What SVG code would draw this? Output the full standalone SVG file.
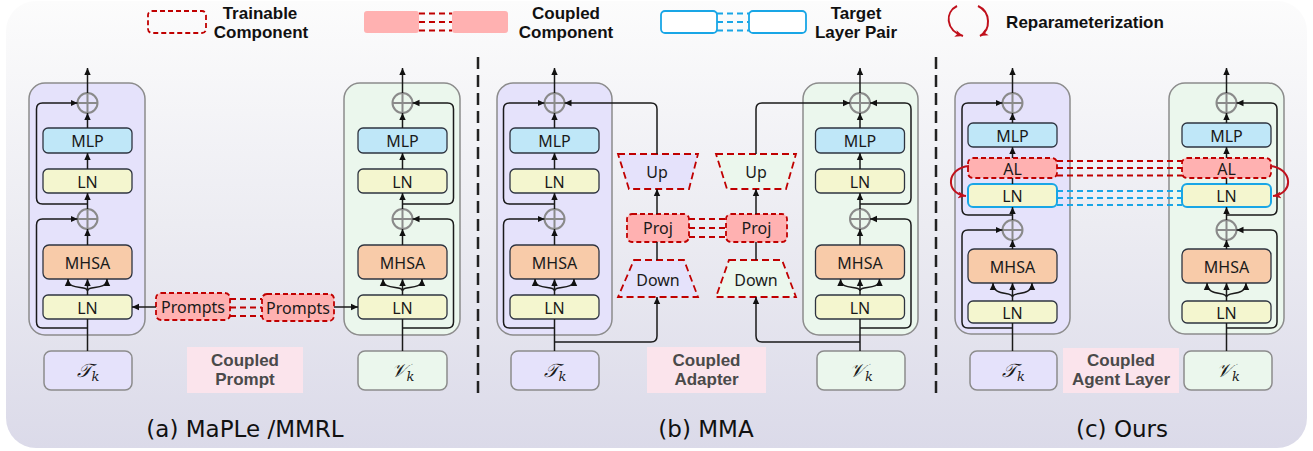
<svg xmlns="http://www.w3.org/2000/svg" width="1313" height="451" viewBox="0 0 1313 451">
  <defs>
    <linearGradient id="bgGrad" x1="0" y1="0" x2="0" y2="1">
      <stop offset="0" stop-color="#fcfcfc"/>
      <stop offset="0.5" stop-color="#ececf2"/>
      <stop offset="1" stop-color="#dbdae9"/>
    </linearGradient>
    <marker id="arr" markerUnits="userSpaceOnUse" markerWidth="8" markerHeight="8" refX="7" refY="4" orient="auto">
      <path d="M0,0.8 L7,4 L0,7.2 z" fill="#111"/>
    </marker>
    <marker id="arrRed" markerUnits="userSpaceOnUse" markerWidth="9" markerHeight="9" refX="8" refY="4.5" orient="auto">
      <path d="M0,1 L8,4.5 L0,8 L2,4.5 z" fill="#c0101c"/>
    </marker>
    <style>
      .blkT { fill: #e5e2fb; stroke: #8c8c8c; stroke-width: 1.5; }
      .blkV { fill: #ebf7ed; stroke: #8c8c8c; stroke-width: 1.5; }
      .mlp { fill: #bfe7f8; stroke: #2e3440; stroke-width: 1.3; }
      .ln { fill: #f4f6cf; stroke: #2e3440; stroke-width: 1.3; }
      .lnT { fill: #f4f6cf; stroke: #19a6e6; stroke-width: 2; }
      .mhsa { fill: #f8cba9; stroke: #2e3440; stroke-width: 1.3; }
      .train { fill: #ffb1b1; stroke: #c00000; stroke-width: 1.8; stroke-dasharray: 5 3; }
      .trapT { fill: #e5e2fb; stroke: #c00000; stroke-width: 1.8; stroke-dasharray: 7 4; }
      .trapV { fill: #ebf7ed; stroke: #c00000; stroke-width: 1.8; stroke-dasharray: 7 4; }
      .plus { fill: none; stroke: #8a8a8a; stroke-width: 2; }
      .wire { fill: none; stroke: #1a1a1a; stroke-width: 1.5; }
      .dashR { fill: none; stroke: #c00000; stroke-width: 1.8; stroke-dasharray: 6 4; }
      .dashB { fill: none; stroke: #19a6e6; stroke-width: 1.8; stroke-dasharray: 6 4; }
      .sep { fill: none; stroke: #222; stroke-width: 2.5; stroke-dasharray: 12 6; }
      .reparam { fill: none; stroke: #c0101c; stroke-width: 2; }
      .inpT { fill: #e5e2fb; stroke: #8c8c8c; stroke-width: 1.5; }
      .inpV { fill: #ebf7ed; stroke: #8c8c8c; stroke-width: 1.5; }
      .tag { fill: #fbe4ec; }
      .lbl { font-family: "Noto Sans", "Open Sans", sans-serif; font-size: 16px; fill: #1a1a1a; text-anchor: middle; dominant-baseline: central; }
      .tagTxt { font-family: "Liberation Sans", Arial, sans-serif; font-size: 17px; font-weight: bold; fill: #4a4a4a; text-anchor: middle; }
      .leg { font-family: "Liberation Sans", Arial, sans-serif; font-size: 17px; font-weight: bold; fill: #111; text-anchor: middle; }
      .cap { font-family: "DejaVu Sans", "Liberation Sans", sans-serif; font-size: 23px; fill: #111; text-anchor: middle; }
      .math { font-family: "DejaVu Serif", "Liberation Serif", serif; font-style: italic; font-size: 19px; fill: #1a1a1a; text-anchor: middle; }
    </style>
  </defs>

  <!-- backdrop -->
  <rect x="6" y="1" width="1301" height="447" rx="30" fill="url(#bgGrad)"/>

  <!-- legend -->
  <g id="legend">
    <rect x="148" y="11" width="58" height="22" rx="4" fill="none" stroke="#c00000" stroke-width="1.8" stroke-dasharray="5 3"/>
    <text class="leg" x="260" y="18.5">Trainable</text>
    <text class="leg" x="261" y="38">Component</text>

    <rect x="364" y="11" width="55" height="22" rx="3" fill="#ffb1b1"/>
    <rect x="452" y="11" width="56" height="22" rx="3" fill="#ffb1b1"/>
    <path class="dashR" d="M419,13.5 H452 M419,22 H452 M419,30.5 H452" stroke-dasharray="5 3"/>
    <text class="leg" x="566" y="18.5">Coupled</text>
    <text class="leg" x="566" y="38">Component</text>

    <rect x="661" y="11" width="56" height="22" rx="4" fill="#fff" stroke="#19a6e6" stroke-width="1.8"/>
    <rect x="749" y="11" width="57" height="22" rx="4" fill="#fff" stroke="#19a6e6" stroke-width="1.8"/>
    <path class="dashB" d="M717,13.5 H749 M717,22 H749 M717,30.5 H749" stroke-dasharray="5 3"/>
    <text class="leg" x="856" y="18.5">Target</text>
    <text class="leg" x="856" y="38">Layer Pair</text>

    <path class="reparam" d="M957,6 C945,12 945,30 963,36" marker-end="url(#arrRed)"/>
    <path class="reparam" d="M978,6 C991,12 991,30 980,36" marker-end="url(#arrRed)"/>
    <text class="leg" x="1085" y="28">Reparameterization</text>
  </g>

  <!-- panel separators -->
  <g id="separators">
    <line class="sep" x1="478" y1="57" x2="478" y2="398"/>
    <line class="sep" x1="936" y1="57" x2="936" y2="398"/>
  </g>

  <!-- ===== (a) MaPLe / MMRL ===== -->
  <g id="a-text-encoder">
    <rect class="blkT" x="29" y="83" width="116" height="252" rx="16"/>
    <g id="a-t-mlp"><rect class="mlp" x="43" y="128" width="89" height="25" rx="5"/><text class="lbl" x="87.5" y="141">MLP</text></g>
    <g id="a-t-ln2"><rect class="ln" x="43" y="169" width="89" height="24" rx="5"/><text class="lbl" x="87.5" y="181.5">LN</text></g>
    <g id="a-t-mhsa"><rect class="mhsa" x="43" y="245" width="89" height="34" rx="6"/><text class="lbl" x="87.5" y="262.5">MHSA</text></g>
    <g id="a-t-ln1"><rect class="ln" x="43" y="295" width="89" height="24" rx="5"/><text class="lbl" x="87.5" y="307.5">LN</text></g>
    <g id="a-t-add2"><circle class="plus" cx="87.5" cy="103" r="10"/><path class="plus" d="M77.5,103 H97.5 M87.5,93 V113"/></g>
    <g id="a-t-add1"><circle class="plus" cx="87.5" cy="219" r="10"/><path class="plus" d="M77.5,219 H97.5 M87.5,209 V229"/></g>
  </g>
  <g id="a-image-encoder">
    <rect class="blkV" x="344" y="83" width="116" height="252" rx="16"/>
    <g id="a-v-mlp"><rect class="mlp" x="358" y="128" width="89" height="25" rx="5"/><text class="lbl" x="402.5" y="141">MLP</text></g>
    <g id="a-v-ln2"><rect class="ln" x="358" y="169" width="89" height="24" rx="5"/><text class="lbl" x="402.5" y="181.5">LN</text></g>
    <g id="a-v-mhsa"><rect class="mhsa" x="358" y="245" width="89" height="34" rx="6"/><text class="lbl" x="402.5" y="262.5">MHSA</text></g>
    <g id="a-v-ln1"><rect class="ln" x="358" y="295" width="89" height="24" rx="5"/><text class="lbl" x="402.5" y="307.5">LN</text></g>
    <g id="a-v-add2"><circle class="plus" cx="402.5" cy="103" r="10"/><path class="plus" d="M392.5,103 H412.5 M402.5,93 V113"/></g>
    <g id="a-v-add1"><circle class="plus" cx="402.5" cy="219" r="10"/><path class="plus" d="M392.5,219 H412.5 M402.5,209 V229"/></g>
  </g>
  <g id="a-prompt-t"><rect class="train" x="156" y="293" width="74" height="27" rx="5"/><text class="lbl" x="193" y="307" font-size="15">Prompts</text></g>
  <g id="a-prompt-v"><rect class="train" x="262" y="294" width="72" height="27" rx="5"/><text class="lbl" x="298" y="308" font-size="15">Prompts</text></g>
  <g id="a-input-t"><rect class="inpT" x="44" y="351" width="88" height="39" rx="7"/><text class="math" x="88" y="377">𝒯<tspan font-size="13" dy="4">k</tspan></text></g>
  <g id="a-input-v"><rect class="inpV" x="358" y="351" width="89" height="39" rx="7"/><text class="math" x="402.5" y="377">𝒱<tspan font-size="13" dy="4">k</tspan></text></g>
  <g id="a-tag"><rect class="tag" x="187" y="347" width="116" height="46"/><text class="tagTxt" x="245" y="366">Coupled</text><text class="tagTxt" x="245" y="385">Prompt</text></g>
  <text class="cap" x="245" y="437">(a) MaPLe /MMRL</text>

  <!-- ===== (b) MMA ===== -->
  <g id="b-text-encoder">
    <rect class="blkT" x="497" y="83" width="115" height="252" rx="16"/>
    <g id="b-t-mlp"><rect class="mlp" x="510" y="128" width="89" height="25" rx="5"/><text class="lbl" x="554.5" y="141">MLP</text></g>
    <g id="b-t-ln2"><rect class="ln" x="510" y="169" width="89" height="24" rx="5"/><text class="lbl" x="554.5" y="181.5">LN</text></g>
    <g id="b-t-mhsa"><rect class="mhsa" x="510" y="245" width="89" height="34" rx="6"/><text class="lbl" x="554.5" y="262.5">MHSA</text></g>
    <g id="b-t-ln1"><rect class="ln" x="510" y="295" width="89" height="24" rx="5"/><text class="lbl" x="554.5" y="307.5">LN</text></g>
    <g id="b-t-add2"><circle class="plus" cx="554.5" cy="103" r="10"/><path class="plus" d="M544.5,103 H564.5 M554.5,93 V113"/></g>
    <g id="b-t-add1"><circle class="plus" cx="554.5" cy="219" r="10"/><path class="plus" d="M544.5,219 H564.5 M554.5,209 V229"/></g>
  </g>
  <g id="b-image-encoder">
    <rect class="blkV" x="803" y="83" width="115" height="252" rx="16"/>
    <g id="b-v-mlp"><rect class="mlp" x="815.5" y="128" width="89" height="25" rx="5"/><text class="lbl" x="860" y="141">MLP</text></g>
    <g id="b-v-ln2"><rect class="ln" x="815.5" y="169" width="89" height="24" rx="5"/><text class="lbl" x="860" y="181.5">LN</text></g>
    <g id="b-v-mhsa"><rect class="mhsa" x="815.5" y="245" width="89" height="34" rx="6"/><text class="lbl" x="860" y="262.5">MHSA</text></g>
    <g id="b-v-ln1"><rect class="ln" x="815.5" y="295" width="89" height="24" rx="5"/><text class="lbl" x="860" y="307.5">LN</text></g>
    <g id="b-v-add2"><circle class="plus" cx="860" cy="103" r="10"/><path class="plus" d="M850,103 H870 M860,93 V113"/></g>
    <g id="b-v-add1"><circle class="plus" cx="860" cy="219" r="10"/><path class="plus" d="M850,219 H870 M860,209 V229"/></g>
  </g>
  <g id="b-up-t"><polygon class="trapT" points="618,154 698,154 689,189 629,189"/><text class="lbl" x="657" y="172">Up</text></g>
  <g id="b-proj-t"><rect class="train" x="627" y="214" width="62" height="28" rx="5"/><text class="lbl" x="658" y="228">Proj</text></g>
  <g id="b-down-t"><polygon class="trapT" points="634,260 684,260 698,297 618,297"/><text class="lbl" x="658" y="280">Down</text></g>
  <g id="b-up-v"><polygon class="trapV" points="716,154 796,154 786,189 727,189"/><text class="lbl" x="756" y="172">Up</text></g>
  <g id="b-proj-v"><rect class="train" x="726" y="214" width="61" height="28" rx="5"/><text class="lbl" x="756.5" y="228">Proj</text></g>
  <g id="b-down-v"><polygon class="trapV" points="729,260 782,260 796,297 716,297"/><text class="lbl" x="756" y="280">Down</text></g>
  <g id="b-input-t"><rect class="inpT" x="511" y="351" width="88" height="39" rx="7"/><text class="math" x="555" y="377">𝒯<tspan font-size="13" dy="4">k</tspan></text></g>
  <g id="b-input-v"><rect class="inpV" x="817" y="351" width="88" height="39" rx="7"/><text class="math" x="861" y="377">𝒱<tspan font-size="13" dy="4">k</tspan></text></g>
  <g id="b-tag"><rect class="tag" x="647" y="347" width="119" height="46"/><text class="tagTxt" x="706.5" y="366">Coupled</text><text class="tagTxt" x="706.5" y="385">Adapter</text></g>
  <text class="cap" x="706" y="437">(b) MMA</text>

  <!-- ===== (c) Ours ===== -->
  <g id="c-text-encoder">
    <rect class="blkT" x="955" y="83" width="115" height="251" rx="16"/>
    <g id="c-t-mlp"><rect class="mlp" x="968" y="123" width="89" height="24" rx="5"/><text class="lbl" x="1012.5" y="135.5">MLP</text></g>
    <g id="c-t-al"><rect class="train" x="968" y="158" width="89" height="20" rx="5"/><text class="lbl" x="1012.5" y="168.5" font-size="17">AL</text></g>
    <g id="c-t-ln2"><rect class="lnT" x="968" y="184" width="89" height="23" rx="5"/><text class="lbl" x="1012.5" y="196">LN</text></g>
    <g id="c-t-mhsa"><rect class="mhsa" x="968" y="249" width="89" height="34" rx="6"/><text class="lbl" x="1012.5" y="266.5">MHSA</text></g>
    <g id="c-t-ln1"><rect class="ln" x="968" y="301" width="89" height="22" rx="5"/><text class="lbl" x="1012.5" y="312.5">LN</text></g>
    <g id="c-t-add2"><circle class="plus" cx="1012.5" cy="103" r="10"/><path class="plus" d="M1002.5,103 H1022.5 M1012.5,93 V113"/></g>
    <g id="c-t-add1"><circle class="plus" cx="1012.5" cy="230" r="10"/><path class="plus" d="M1002.5,230 H1022.5 M1012.5,220 V240"/></g>
  </g>
  <g id="c-image-encoder">
    <rect class="blkV" x="1169" y="83" width="115" height="251" rx="16"/>
    <g id="c-v-mlp"><rect class="mlp" x="1182" y="123" width="89" height="24" rx="5"/><text class="lbl" x="1226.5" y="135.5">MLP</text></g>
    <g id="c-v-al"><rect class="train" x="1182" y="158" width="89" height="20" rx="5"/><text class="lbl" x="1226.5" y="168.5" font-size="17">AL</text></g>
    <g id="c-v-ln2"><rect class="lnT" x="1182" y="184" width="89" height="23" rx="5"/><text class="lbl" x="1226.5" y="196">LN</text></g>
    <g id="c-v-mhsa"><rect class="mhsa" x="1182" y="249" width="89" height="34" rx="6"/><text class="lbl" x="1226.5" y="266.5">MHSA</text></g>
    <g id="c-v-ln1"><rect class="ln" x="1182" y="301" width="89" height="22" rx="5"/><text class="lbl" x="1226.5" y="312.5">LN</text></g>
    <g id="c-v-add2"><circle class="plus" cx="1226.5" cy="103" r="10"/><path class="plus" d="M1216.5,103 H1236.5 M1226.5,93 V113"/></g>
    <g id="c-v-add1"><circle class="plus" cx="1226.5" cy="230" r="10"/><path class="plus" d="M1216.5,230 H1236.5 M1226.5,220 V240"/></g>
  </g>
  <g id="c-input-t"><rect class="inpT" x="970" y="351" width="87" height="39" rx="7"/><text class="math" x="1013.5" y="377">𝒯<tspan font-size="13" dy="4">k</tspan></text></g>
  <g id="c-input-v"><rect class="inpV" x="1184" y="351" width="88" height="39" rx="7"/><text class="math" x="1228" y="377">𝒱<tspan font-size="13" dy="4">k</tspan></text></g>
  <g id="c-tag"><rect class="tag" x="1063" y="348" width="116" height="45"/><text class="tagTxt" x="1121" y="366">Coupled</text><text class="tagTxt" x="1121" y="385">Agent Layer</text></g>
  <text class="cap" x="1122" y="437">(c) Ours</text>

  <!-- connectors -->
  <g id="connectors">
    <!-- (a) text encoder flow -->
    <path class="wire" d="M87.5,351 V319"/>
    <path class="wire" d="M87.5,295 V279" marker-end="url(#arr)"/>
    <path class="wire" d="M87.5,291 C87.5,285 68,291 68,279" marker-end="url(#arr)"/>
    <path class="wire" d="M87.5,291 C87.5,285 107,291 107,279" marker-end="url(#arr)"/>
    <path class="wire" d="M87.5,245 V229" marker-end="url(#arr)"/>
    <path class="wire" d="M87.5,209 V193" marker-end="url(#arr)"/>
    <path class="wire" d="M87.5,169 V153" marker-end="url(#arr)"/>
    <path class="wire" d="M87.5,128 V113" marker-end="url(#arr)"/>
    <path class="wire" d="M87.5,93 V68" marker-end="url(#arr)"/>
    <path class="wire" d="M87.5,204 H42.5 Q36.5,204 36.5,198 V109 Q36.5,103 42.5,103 H77.5" marker-end="url(#arr)"/>
    <path class="wire" d="M87.5,328 H42.5 Q36.5,328 36.5,322 V225 Q36.5,219 42.5,219 H77.5" marker-end="url(#arr)"/>
    <!-- (a) image encoder flow -->
    <path class="wire" d="M402.5,351 V319"/>
    <path class="wire" d="M402.5,295 V279" marker-end="url(#arr)"/>
    <path class="wire" d="M402.5,291 C402.5,285 383,291 383,279" marker-end="url(#arr)"/>
    <path class="wire" d="M402.5,291 C402.5,285 422,291 422,279" marker-end="url(#arr)"/>
    <path class="wire" d="M402.5,245 V229" marker-end="url(#arr)"/>
    <path class="wire" d="M402.5,209 V193" marker-end="url(#arr)"/>
    <path class="wire" d="M402.5,169 V153" marker-end="url(#arr)"/>
    <path class="wire" d="M402.5,128 V113" marker-end="url(#arr)"/>
    <path class="wire" d="M402.5,93 V68" marker-end="url(#arr)"/>
    <path class="wire" d="M402.5,204 H447.5 Q453.5,204 453.5,198 V109 Q453.5,103 447.5,103 H412.5" marker-end="url(#arr)"/>
    <path class="wire" d="M402.5,328 H447.5 Q453.5,328 453.5,322 V225 Q453.5,219 447.5,219 H412.5" marker-end="url(#arr)"/>
    <!-- (a) prompts -->
    <path class="wire" d="M156,307 H132" marker-end="url(#arr)"/>
    <path class="wire" d="M334,307 H358" marker-end="url(#arr)"/>
    <path class="dashR" d="M230,299 H262 M230,307.5 H262 M230,316 H262" stroke-dasharray="5 4"/>

    <!-- (b) text encoder flow -->
    <path class="wire" d="M554.5,351 V319"/>
    <path class="wire" d="M554.5,295 V279" marker-end="url(#arr)"/>
    <path class="wire" d="M554.5,291 C554.5,285 535,291 535,279" marker-end="url(#arr)"/>
    <path class="wire" d="M554.5,291 C554.5,285 574,291 574,279" marker-end="url(#arr)"/>
    <path class="wire" d="M554.5,245 V229" marker-end="url(#arr)"/>
    <path class="wire" d="M554.5,209 V193" marker-end="url(#arr)"/>
    <path class="wire" d="M554.5,169 V153" marker-end="url(#arr)"/>
    <path class="wire" d="M554.5,128 V113" marker-end="url(#arr)"/>
    <path class="wire" d="M554.5,93 V68" marker-end="url(#arr)"/>
    <path class="wire" d="M554.5,204 H509.5 Q503.5,204 503.5,198 V109 Q503.5,103 509.5,103 H544.5" marker-end="url(#arr)"/>
    <path class="wire" d="M554.5,328 H509.5 Q503.5,328 503.5,322 V225 Q503.5,219 509.5,219 H544.5" marker-end="url(#arr)"/>
    <!-- (b) image encoder flow -->
    <path class="wire" d="M860,351 V319"/>
    <path class="wire" d="M860,295 V279" marker-end="url(#arr)"/>
    <path class="wire" d="M860,291 C860,285 840.5,291 840.5,279" marker-end="url(#arr)"/>
    <path class="wire" d="M860,291 C860,285 879.5,291 879.5,279" marker-end="url(#arr)"/>
    <path class="wire" d="M860,245 V229" marker-end="url(#arr)"/>
    <path class="wire" d="M860,209 V193" marker-end="url(#arr)"/>
    <path class="wire" d="M860,169 V153" marker-end="url(#arr)"/>
    <path class="wire" d="M860,128 V113" marker-end="url(#arr)"/>
    <path class="wire" d="M860,93 V68" marker-end="url(#arr)"/>
    <path class="wire" d="M860,204 H905 Q911,204 911,198 V109 Q911,103 905,103 H870" marker-end="url(#arr)"/>
    <path class="wire" d="M860,328 H905 Q911,328 911,322 V225 Q911,219 905,219 H870" marker-end="url(#arr)"/>
    <!-- (b) adapter branches -->
    <path class="wire" d="M554.5,342 H651 Q657,342 657,336 V297" marker-end="url(#arr)"/>
    <path class="wire" d="M657,260 V242"/>
    <path class="wire" d="M657,214 V189" marker-end="url(#arr)"/>
    <path class="wire" d="M657,154 V109 Q657,103 651,103 H564.5" marker-end="url(#arr)"/>
    <path class="wire" d="M860,342 H762 Q756,342 756,336 V297" marker-end="url(#arr)"/>
    <path class="wire" d="M756,260 V242"/>
    <path class="wire" d="M756,214 V189" marker-end="url(#arr)"/>
    <path class="wire" d="M756,154 V109 Q756,103 762,103 H850" marker-end="url(#arr)"/>
    <path class="dashR" d="M689,219 H726 M689,228 H726 M689,237 H726" stroke-dasharray="5 4"/>

    <!-- (c) text encoder flow -->
    <path class="wire" d="M1012.5,351 V323"/>
    <path class="wire" d="M1012.5,301 V283" marker-end="url(#arr)"/>
    <path class="wire" d="M1012.5,297 C1012.5,291 993,297 993,283" marker-end="url(#arr)"/>
    <path class="wire" d="M1012.5,297 C1012.5,291 1032,297 1032,283" marker-end="url(#arr)"/>
    <path class="wire" d="M1012.5,249 V240" marker-end="url(#arr)"/>
    <path class="wire" d="M1012.5,220 V207" marker-end="url(#arr)"/>
    <path class="wire" d="M1012.5,184 V178"/>
    <path class="wire" d="M1012.5,158 V147" marker-end="url(#arr)"/>
    <path class="wire" d="M1012.5,123 V113" marker-end="url(#arr)"/>
    <path class="wire" d="M1012.5,93 V68" marker-end="url(#arr)"/>
    <path class="wire" d="M1012.5,215 H968 Q962,215 962,209 V109 Q962,103 968,103 H1002.5" marker-end="url(#arr)"/>
    <path class="wire" d="M1012.5,328 H968 Q962,328 962,322 V236 Q962,230 968,230 H1002.5" marker-end="url(#arr)"/>
    <!-- (c) image encoder flow -->
    <path class="wire" d="M1226.5,351 V323"/>
    <path class="wire" d="M1226.5,301 V283" marker-end="url(#arr)"/>
    <path class="wire" d="M1226.5,297 C1226.5,291 1207,297 1207,283" marker-end="url(#arr)"/>
    <path class="wire" d="M1226.5,297 C1226.5,291 1246,297 1246,283" marker-end="url(#arr)"/>
    <path class="wire" d="M1226.5,249 V240" marker-end="url(#arr)"/>
    <path class="wire" d="M1226.5,220 V207" marker-end="url(#arr)"/>
    <path class="wire" d="M1226.5,184 V178"/>
    <path class="wire" d="M1226.5,158 V147" marker-end="url(#arr)"/>
    <path class="wire" d="M1226.5,123 V113" marker-end="url(#arr)"/>
    <path class="wire" d="M1226.5,93 V68" marker-end="url(#arr)"/>
    <path class="wire" d="M1226.5,215 H1271 Q1277,215 1277,209 V109 Q1277,103 1271,103 H1236.5" marker-end="url(#arr)"/>
    <path class="wire" d="M1226.5,328 H1271 Q1277,328 1277,322 V236 Q1277,230 1271,230 H1236.5" marker-end="url(#arr)"/>
    <!-- (c) coupled agent layers and target LN pair -->
    <path class="dashR" d="M1057,161 H1182 M1057,168 H1182 M1057,175.5 H1182" stroke-dasharray="9 5"/>
    <path class="dashB" d="M1057,191 H1182 M1057,198 H1182 M1057,205 H1182" stroke-dasharray="9 5"/>
    <!-- reparameterization arrows -->
    <path class="reparam" d="M969,166 C947,168 944,193 966,196" marker-end="url(#arrRed)"/>
    <path class="reparam" d="M1270,166 C1292,168 1295,193 1273,196" marker-end="url(#arrRed)"/>
  </g>
</svg>
